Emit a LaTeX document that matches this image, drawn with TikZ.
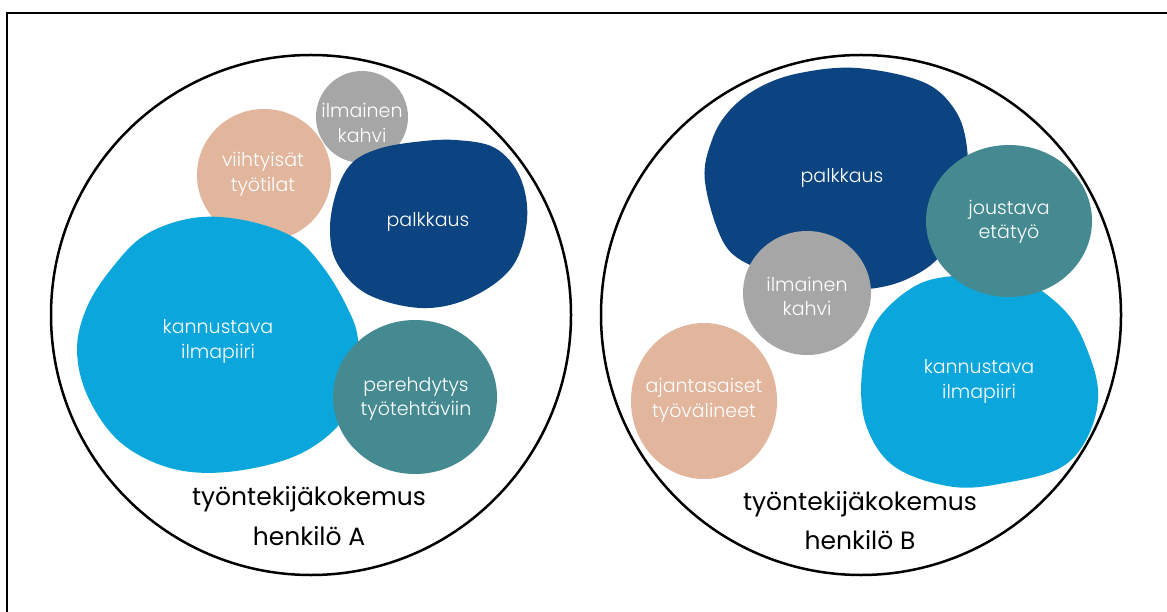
\documentclass[tikz,border=0pt]{standalone}
\usepackage{fontspec}
\setmainfont{Poppins}
\newfontfamily\lightfont{Poppins Light}
\definecolor{dblue}{HTML}{0B4480}
\definecolor{lblue}{HTML}{0BA6DB}
\definecolor{teal2}{HTML}{458A91}
\definecolor{peach}{HTML}{E2B59D}
\definecolor{gray2}{HTML}{A6A6A6}
\tikzset{
  blobtext/.style={text=white, anchor=base, font=\lightfont\fontsize{19}{25}\selectfont, inner sep=0pt},
  titletext/.style={text=black, anchor=base, font=\fontsize{25}{38}\selectfont, inner sep=0pt},
  bigcircle/.style={draw=black, line width=2.5pt},
  blob/.style={smooth cycle, tension=0.6},
}
\begin{document}
\begin{tikzpicture}[x=1pt,y=-1pt]
\useasboundingbox (0,0) rectangle (1167,612);
\fill[white] (0,0) rectangle (1167,612);
% outer frame (left and top edges visible)
\draw[line width=2pt] (7,612) -- (7,13) -- (1167,13);

% ---------- left circle ----------
\draw[bigcircle] (311,315) circle (260);
\fill[gray2] (362,117) circle (46);
\fill[peach] (264,175) ellipse [x radius=67, y radius=66];
\fill[dblue] plot[blob] coordinates {
 (330,228) (337,190) (352,163) (378,149) (415,142) (455,140) (495,148)
 (520,177) (527,220) (512,267) (470,298) (421,308) (367,294) (337,263)};
\fill[lblue] plot[blob] coordinates {
 (87,307) (112,268) (145,235) (193,218) (243,220) (293,237) (323,267)
 (347,307) (358,340) (355,390) (337,427) (293,457) (227,472) (170,468)
 (120,442) (88,397) (77,350)};
\fill[teal2] (415,397) ellipse [x radius=82, y radius=77];

\node[blobtext] (a1) at (362,118) {ilmainen};
\node[blobtext] (a1b) at (362,143) {kahvi};
\node[blobtext] (a2) at (263,167) {viihtyisät};
\node[blobtext] (a2b) at (263,192) {työtilat};
\node[blobtext] (a3) at (428,227) {palkkaus};
\node[blobtext] (a4) at (218,333) {kannustava};
\node[blobtext] (a4b) at (218,358) {ilmapiiri};
\node[blobtext] (a5) at (416,391) {perehdytys};
\node[blobtext] (a5b) at (416,415) {työtehtäviin};
\node[titletext] (ta) at (309,505) {työntekijäkokemus};
\node[titletext] (tab) at (309,545) {henkilö A};

% ---------- right circle ----------
\draw[bigcircle] (861,315) circle (260);
\fill[dblue] plot[blob] coordinates {
 (705,182) (712,140) (730,110) (760,87) (800,73) (857,68) (923,82)
 (955,110) (967,148) (965,195) (943,252) (905,280) (857,290) (800,287)
 (760,270) (725,245)};
\fill[gray2] (807,293) ellipse [x radius=64, y radius=62];
\fill[lblue] plot[blob] coordinates {
 (876,322) (917,285) (965,275) (1015,276) (1066,312) (1091,360)
 (1098,400) (1086,440) (1060,468) (1010,482) (954,487) (895,467)
 (866,425) (862,372)};
\fill[teal2] (1009,221) ellipse [x radius=83, y radius=76];
\fill[peach] (704,401) ellipse [x radius=73, y radius=78];

\node[blobtext] (b1) at (842,183) {palkkaus};
\node[blobtext] (b2) at (1009,215) {joustava};
\node[blobtext] (b2b) at (1009,239) {etätyö};
\node[blobtext] (b3) at (807,292) {ilmainen};
\node[blobtext] (b3b) at (807,316) {kahvi};
\node[blobtext] (b4) at (979,373) {kannustava};
\node[blobtext] (b4b) at (979,398) {ilmapiiri};
\node[blobtext] (b5) at (704,392) {ajantasaiset};
\node[blobtext] (b5b) at (704,417) {työvälineet};
\node[titletext] (tb) at (860,510) {työntekijäkokemus};
\node[titletext] (tbb) at (860,549) {henkilö B};
\end{tikzpicture}
\end{document}
